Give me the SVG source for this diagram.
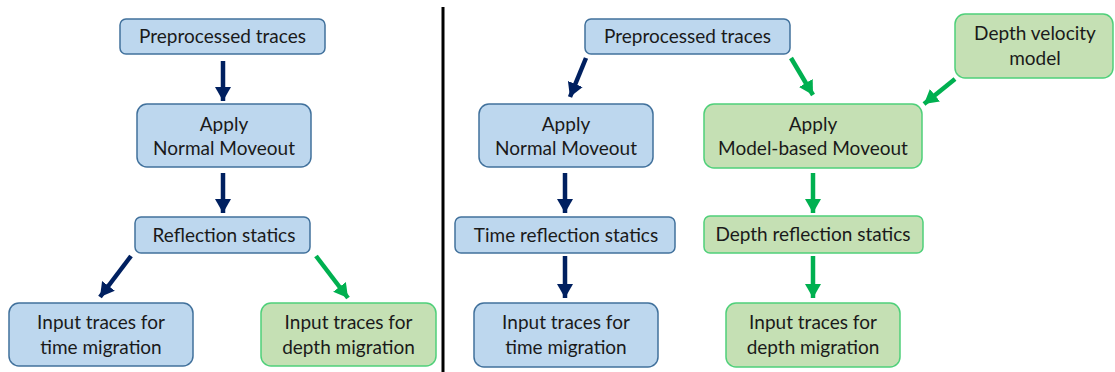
<svg xmlns="http://www.w3.org/2000/svg" width="1115" height="372" viewBox="0 0 1115 372">
<style>
.b{fill:#BDD7EE;stroke:#41719C;stroke-width:1.5}
.g{fill:#C5E0B4;stroke:#4FD07A;stroke-width:1.5}
text{font-family:Lato,"Liberation Sans",sans-serif;font-size:19px;fill:#1a1a1a;text-anchor:middle}
.ab{stroke:#002060;stroke-width:4.5;fill:none;marker-end:url(#hb)}
.ag{stroke:#00B050;stroke-width:4.5;fill:none;marker-end:url(#hg)}
</style>
<defs>
<marker id="hb" markerUnits="userSpaceOnUse" markerWidth="16" markerHeight="18" viewBox="0 0 16 18" refX="14" refY="9" orient="auto"><path d="M0,1 L14,9 L0,17 Z" fill="#002060"/></marker>
<marker id="hg" markerUnits="userSpaceOnUse" markerWidth="16" markerHeight="18" viewBox="0 0 16 18" refX="14" refY="9" orient="auto"><path d="M0,1 L14,9 L0,17 Z" fill="#00B050"/></marker>
</defs>
<rect width="1115" height="372" fill="#fff"/>
<line x1="443" y1="7" x2="443" y2="372" stroke="#000" stroke-width="3"/>
<g id="connectors">
<line class="ab" x1="223" y1="61" x2="223" y2="101"/>
<line class="ab" x1="223" y1="173" x2="223" y2="213"/>
<line class="ab" x1="131" y1="256" x2="100" y2="297"/>
<line class="ag" x1="316" y1="256" x2="348" y2="298"/>
<line class="ab" x1="586" y1="58" x2="570" y2="97"/>
<line class="ag" x1="791" y1="58" x2="813" y2="95"/>
<line class="ag" x1="955" y1="79" x2="924" y2="104"/>
<line class="ab" x1="565" y1="173" x2="565" y2="213"/>
<line class="ag" x1="813" y1="173" x2="813" y2="213"/>
<line class="ab" x1="565" y1="256" x2="565" y2="298"/>
<line class="ag" x1="813" y1="256" x2="813" y2="298"/>
</g>
<g id="l-pre"><rect class="b" x="120" y="19" width="205" height="35" rx="6"/><text x="222.5" y="43">Preprocessed traces</text></g>
<g id="l-nmo"><rect class="b" x="137" y="104" width="174" height="63" rx="10"/><text x="224" y="131">Apply</text><text x="224" y="155">Normal Moveout</text></g>
<g id="l-rs"><rect class="b" x="135" y="217" width="175" height="36" rx="6"/><text x="224" y="242">Reflection statics</text></g>
<g id="l-tm"><rect class="b" x="9" y="303" width="184" height="63" rx="10"/><text x="101" y="329">Input traces for</text><text x="101" y="354">time migration</text></g>
<g id="l-dm"><rect class="g" x="261" y="303" width="175" height="63" rx="10"/><text x="348.5" y="329">Input traces for</text><text x="348.5" y="354">depth migration</text></g>
<g id="r-pre"><rect class="b" x="585" y="19" width="205" height="35" rx="6"/><text x="687.5" y="43">Preprocessed traces</text></g>
<g id="r-dvm"><rect class="g" x="955" y="14" width="158" height="64" rx="10"/><text x="1035" y="40">Depth velocity</text><text x="1035" y="65">model</text></g>
<g id="r-nmo"><rect class="b" x="479" y="104" width="174" height="63" rx="10"/><text x="566" y="131">Apply</text><text x="566" y="155">Normal Moveout</text></g>
<g id="r-mbm"><rect class="g" x="704" y="104" width="218" height="64" rx="10"/><text x="813" y="131">Apply</text><text x="813" y="155">Model-based Moveout</text></g>
<g id="r-trs"><rect class="b" x="455" y="217" width="220" height="36" rx="6"/><text x="566" y="242">Time reflection statics</text></g>
<g id="r-drs"><rect class="g" x="704" y="216" width="219" height="37" rx="6"/><text x="813" y="241">Depth reflection statics</text></g>
<g id="r-tm"><rect class="b" x="474" y="303" width="184" height="64" rx="10"/><text x="566" y="329">Input traces for</text><text x="566" y="354">time migration</text></g>
<g id="r-dm"><rect class="g" x="726" y="303" width="174" height="64" rx="10"/><text x="813" y="329">Input traces for</text><text x="813" y="354">depth migration</text></g>
</svg>
